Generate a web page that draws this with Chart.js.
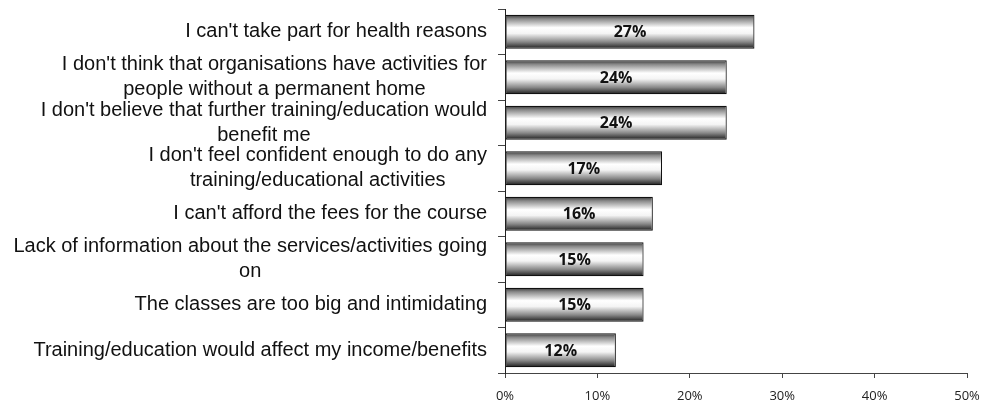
<!DOCTYPE html>
<html>
<head>
<meta charset="utf-8">
<script src="https://cdn.jsdelivr.net/npm/chart.js@4/dist/chart.umd.min.js"></script>
<style>
  html, body { margin: 0; padding: 0; background: #fff; }
  #wrap { width: 981px; height: 402px; }
</style>
</head>
<body>
<div id="wrap"><canvas id="barChart" width="981" height="402"></canvas></div>
<script>
const reasons = [
  ["I can't take part for health reasons"],
  ["I don't think that organisations have activities for", "people without a permanent home"],
  ["I don't believe that further training/education would", "benefit me"],
  ["I don't feel confident enough to do any", "training/educational activities"],
  ["I can't afford the fees for the course"],
  ["Lack of information about the services/activities going", "on"],
  ["The classes are too big and intimidating"],
  ["Training/education would affect my income/benefits"]
];
const shares = [27, 24, 24, 17, 16, 15, 15, 12];
const axisTicks = [0, 10, 20, 30, 40, 50];

const BAR_PCT = 0.75;

// metallic tube shading, dark at the edges and bright just above the middle
function tubeFill(ctx) {
  const chart = ctx.chart;
  const y = chart.scales.y;
  if (!chart.chartArea || !y) return '#ccc';
  const c = y.getPixelForValue(ctx.dataIndex);
  const h = (y.height / reasons.length) * BAR_PCT;
  const g = chart.ctx.createLinearGradient(0, c - h / 2, 0, c + h / 2);
  g.addColorStop(0, '#333333');
  g.addColorStop(0.12, '#888888');
  g.addColorStop(0.38, '#ffffff');
  g.addColorStop(0.55, '#f4f4f4');
  g.addColorStop(0.8, '#888888');
  g.addColorStop(1, '#1a1a1a');
  return g;
}

// category names: block right-aligned next to the axis, lines centred within it
const categoryLabels = {
  id: 'categoryLabels',
  afterDraw(chart) {
    const { ctx } = chart;
    const y = chart.scales.y;
    const right = 487;
    const lh = 25;
    ctx.save();
    ctx.font = '20px "Liberation Sans", Arial, sans-serif';
    ctx.fillStyle = '#111';
    ctx.textAlign = 'center';
    ctx.textBaseline = 'middle';
    reasons.forEach((lines, i) => {
      const cy = y.getPixelForTick(i);
      const w = Math.max(...lines.map(l => ctx.measureText(l).width));
      const cx = right - w / 2;
      const top = cy - (lines.length - 1) * lh / 2;
      lines.forEach((l, k) => ctx.fillText(l, cx, top + k * lh));
    });
    ctx.restore();
  }
};

// percentage printed in the middle of each bar
const valueLabels = {
  id: 'valueLabels',
  afterDatasetsDraw(chart) {
    const { ctx } = chart;
    const meta = chart.getDatasetMeta(0);
    ctx.save();
    ctx.font = 'bold 16px "Open Sans", sans-serif';
    ctx.fillStyle = '#111';
    ctx.textAlign = 'center';
    ctx.textBaseline = 'middle';
    meta.data.forEach((bar, i) => {
      const cx = (bar.base + bar.x) / 2;
      ctx.fillText(shares[i] + '%', cx, bar.y + 1);
    });
    ctx.restore();
  }
};

new Chart(document.getElementById('barChart'), {
  type: 'bar',
  data: {
    labels: reasons,
    datasets: [{
      data: shares,
      backgroundColor: tubeFill,
      borderColor: '#111',
      borderWidth: 1.2,
      borderSkipped: false,
      categoryPercentage: 1,
      barPercentage: BAR_PCT
    }]
  },
  options: {
    indexAxis: 'y',
    responsive: false,
    animation: false,
    layout: { padding: { top: 9, right: 14, left: 0, bottom: 0 } },
    plugins: {
      legend: { display: false },
      tooltip: { enabled: false }
    },
    scales: {
      x: {
        min: axisTicks[0],
        max: axisTicks[axisTicks.length - 1],
        afterBuildTicks: s => { s.ticks = axisTicks.map(v => ({ value: v })); },
        afterFit: s => { s.height = 29; s.paddingLeft = 0; s.paddingRight = 0; },
        border: { display: true, color: '#444', width: 1 },
        grid: { drawOnChartArea: false, drawTicks: true, tickLength: 5, color: '#444' },
        ticks: {
          callback: v => v + '%',
          padding: 10,
          color: '#222',
          font: { family: '"Open Sans", sans-serif', size: 13 }
        }
      },
      y: {
        afterFit: s => { s.width = 505; },
        border: { display: true, color: '#222', width: 1 },
        grid: { offset: true, drawOnChartArea: false, drawTicks: true, tickLength: 7, color: '#444' },
        ticks: { display: false }
      }
    }
  },
  plugins: [categoryLabels, valueLabels]
});
</script>
</body>
</html>
